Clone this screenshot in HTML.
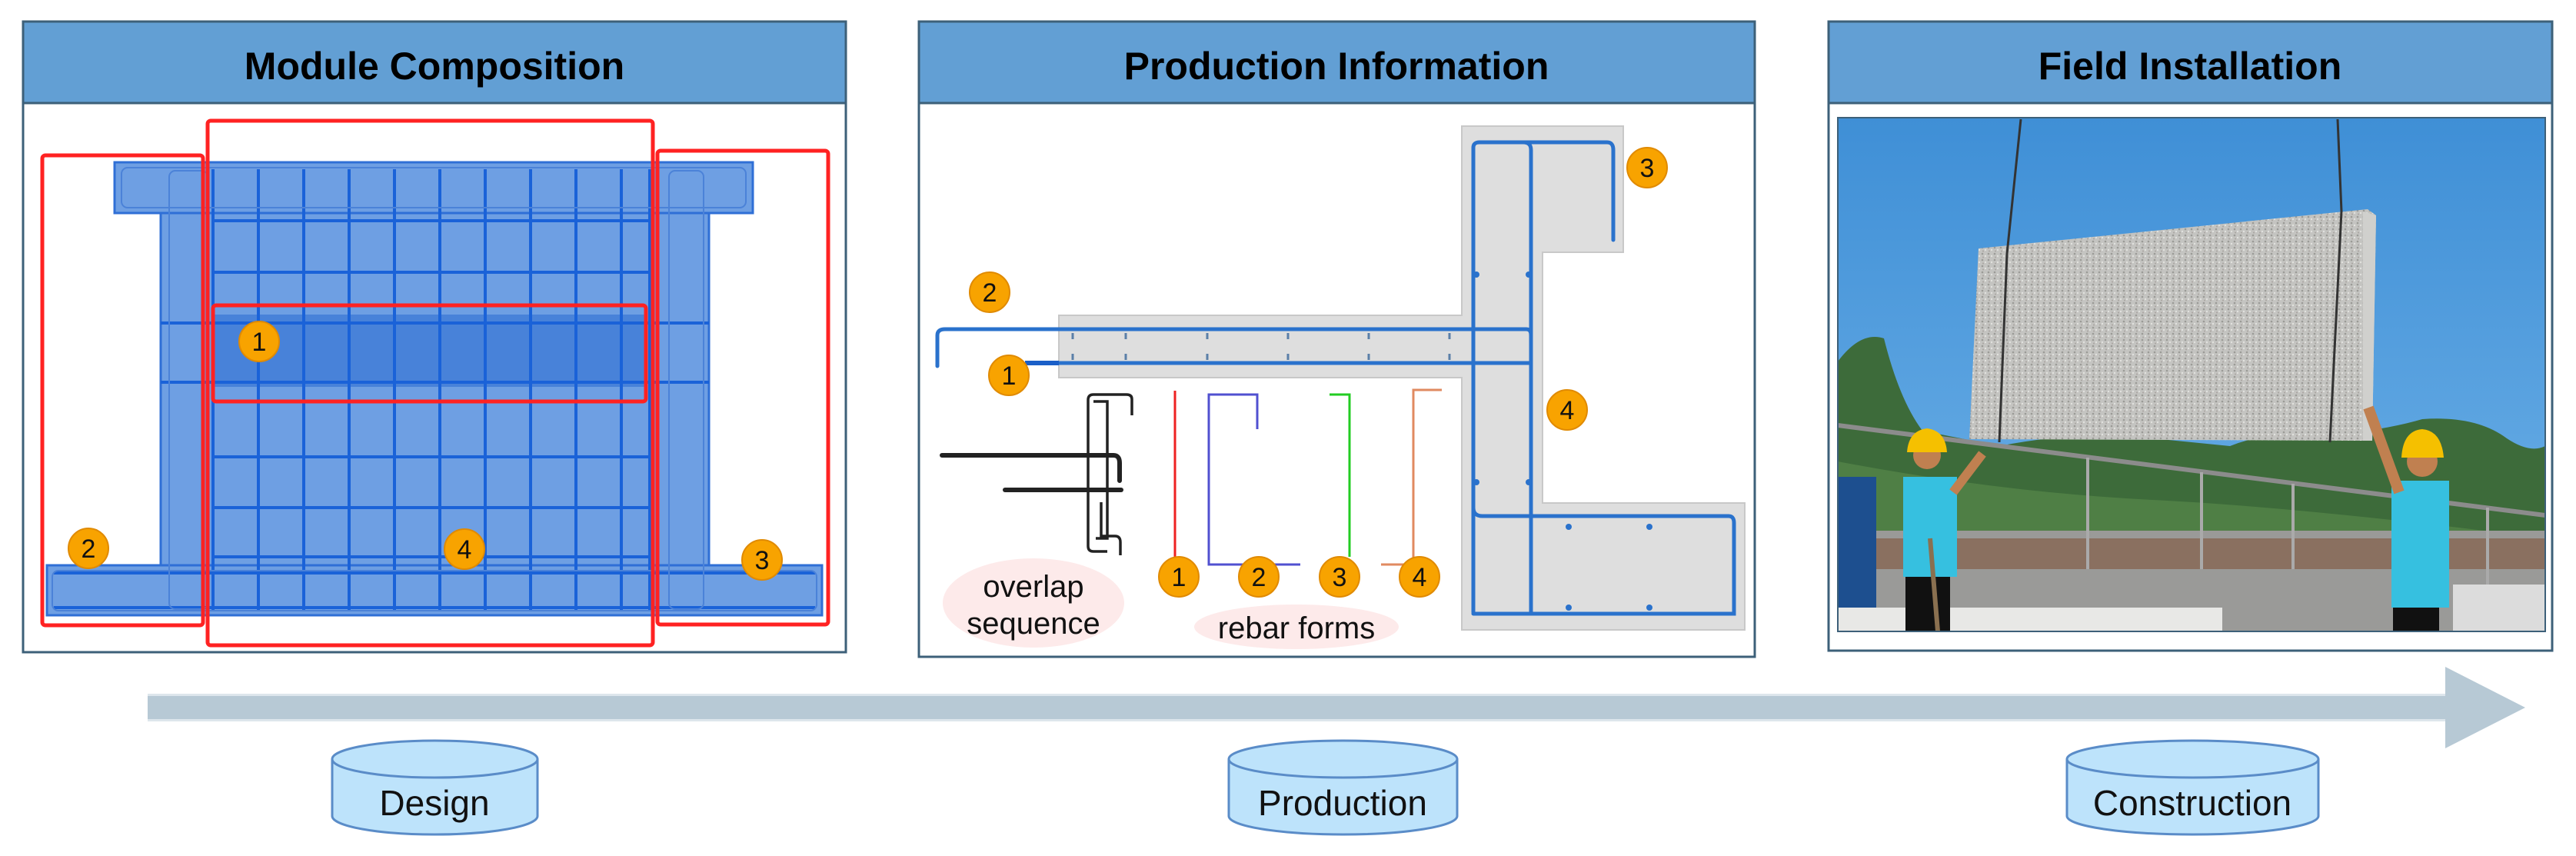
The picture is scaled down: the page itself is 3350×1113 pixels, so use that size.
<!DOCTYPE html>
<html><head><meta charset="utf-8"><style>
html,body{margin:0;padding:0;background:#fff}
svg{display:block}
text{font-family:"Liberation Sans",sans-serif}
</style></head><body>
<svg width="3350" height="1113" viewBox="0 0 3350 1113" xmlns="http://www.w3.org/2000/svg">
<defs>
<pattern id="grain" width="8" height="8" patternUnits="userSpaceOnUse">
<rect width="8" height="8" fill="#c4c4c1"/>
<circle cx="2" cy="2" r="1.3" fill="#9a9a96"/><circle cx="6" cy="5" r="1.2" fill="#e2e2de"/><circle cx="3" cy="6.5" r="1" fill="#a8a49f"/>
</pattern>
<linearGradient id="sky" x1="0" y1="0" x2="0" y2="1"><stop offset="0" stop-color="#3f8fd6"/><stop offset="1" stop-color="#6fb2e8"/></linearGradient>
</defs>

<!-- Panel 1 -->
<rect x="30" y="28" width="1070" height="820" fill="#fff" stroke="#3d6079" stroke-width="3"/>
<rect x="30" y="28" width="1070" height="106" fill="#629fd4" stroke="#3d6079" stroke-width="3"/>
<text x="565" y="103" font-size="50" font-weight="bold" text-anchor="middle">Module Composition</text>
<g fill="#6e9fe3" stroke="#2f6fd6" stroke-width="3">
<rect x="149" y="211" width="830" height="66"/>
<rect x="209" y="277" width="713" height="460"/>
<rect x="61" y="735" width="1008" height="65"/>
</g>
<rect x="277" y="409" width="563" height="94" fill="#3f7ad6" opacity="0.8"/>
<g stroke="#1a62d8" stroke-width="4">
<line x1="277" y1="220" x2="277" y2="795"/><line x1="336" y1="220" x2="336" y2="795"/><line x1="395" y1="220" x2="395" y2="795"/><line x1="454" y1="220" x2="454" y2="795"/><line x1="513" y1="220" x2="513" y2="795"/><line x1="572" y1="220" x2="572" y2="795"/><line x1="631" y1="220" x2="631" y2="795"/><line x1="690" y1="220" x2="690" y2="795"/><line x1="749" y1="220" x2="749" y2="795"/><line x1="808" y1="220" x2="808" y2="795"/><line x1="845" y1="220" x2="845" y2="795"/>
<line x1="277" y1="287" x2="845" y2="287"/><line x1="277" y1="354" x2="845" y2="354"/><line x1="209" y1="420" x2="922" y2="420"/><line x1="209" y1="497" x2="922" y2="497"/><line x1="277" y1="594" x2="845" y2="594"/><line x1="277" y1="660" x2="845" y2="660"/><line x1="277" y1="724" x2="845" y2="724"/><line x1="70" y1="745" x2="1060" y2="745"/><line x1="70" y1="790" x2="1060" y2="790"/>
</g>
<g stroke="#4b82d8" stroke-width="2" fill="none">
<rect x="220" y="222" width="50" height="570" rx="8"/><rect x="870" y="222" width="45" height="570" rx="8"/>
<rect x="158" y="218" width="812" height="52" rx="8"/><rect x="68" y="742" width="994" height="52" rx="8"/>
</g>
<g fill="none" stroke="#f22" stroke-width="5">
<rect x="55" y="202" width="209" height="611" rx="4"/>
<rect x="270" y="157" width="579" height="682" rx="4"/>
<rect x="855" y="196" width="222" height="616" rx="4"/>
<rect x="277" y="397" width="563" height="125" rx="4"/>
</g>
<g fill="#f8a300" stroke="#e08a00" stroke-width="2">
<circle cx="337" cy="444" r="26"/><circle cx="115" cy="713" r="26"/><circle cx="604" cy="714" r="26"/><circle cx="991" cy="728" r="26"/>
</g>
<g font-size="34" text-anchor="middle" fill="#111">
<text x="337" y="456">1</text><text x="115" y="725">2</text><text x="604" y="726">4</text><text x="991" y="740">3</text>
</g>

<!-- Panel 2 -->
<rect x="1195" y="28" width="1087" height="826" fill="#fff" stroke="#3d6079" stroke-width="3"/>
<rect x="1195" y="28" width="1087" height="106" fill="#629fd4" stroke="#3d6079" stroke-width="3"/>
<text x="1738" y="103" font-size="50" font-weight="bold" text-anchor="middle">Production Information</text>
<g fill="#dedede" stroke="#c8c8c8" stroke-width="2">
<path d="M1901 164 H2111 V328 H2006 V654 H2269 V819 H1901 V491 H1377 V410 H1901 Z"/>
</g>
<g fill="none" stroke="#2a72cc" stroke-width="5" stroke-linecap="round">
<path d="M1916 796 V192 Q1916 185 1924 185 H2090 Q2098 185 2098 195 V312"/>
<path d="M1991 796 V195 Q1991 185 1981 185"/>
<path d="M1219 476 V436 Q1219 428 1229 428 H1985 Q1991 428 1991 436"/>
<path d="M1377 472 H1991"/>
<path d="M1916 660 Q1916 671 1928 671 H2248 Q2255 671 2255 680 V798 H1916"/>
</g>
<path d="M1333 472 H1377" stroke="#1a5fc8" stroke-width="6"/>
<g stroke="#5a7fa8" stroke-width="3">
<line x1="1395" y1="433" x2="1395" y2="441"/><line x1="1464" y1="433" x2="1464" y2="441"/><line x1="1570" y1="433" x2="1570" y2="441"/><line x1="1675" y1="433" x2="1675" y2="441"/><line x1="1780" y1="433" x2="1780" y2="441"/><line x1="1885" y1="433" x2="1885" y2="441"/>
<line x1="1395" y1="460" x2="1395" y2="468"/><line x1="1464" y1="460" x2="1464" y2="468"/><line x1="1570" y1="460" x2="1570" y2="468"/><line x1="1675" y1="460" x2="1675" y2="468"/><line x1="1780" y1="460" x2="1780" y2="468"/><line x1="1885" y1="460" x2="1885" y2="468"/>
</g>
<g fill="#2a72cc"><circle cx="1920" cy="357" r="4"/><circle cx="1988" cy="357" r="4"/><circle cx="1920" cy="627" r="4"/><circle cx="1988" cy="627" r="4"/><circle cx="2040" cy="685" r="4"/><circle cx="2145" cy="685" r="4"/><circle cx="2040" cy="790" r="4"/><circle cx="2145" cy="790" r="4"/></g>
<g fill="none" stroke-width="3">
<path d="M1528 508 V724" stroke="#e22"/>
<path d="M1635 558 V513 H1572 V734 H1691" stroke="#5050d0"/>
<path d="M1729 513 H1755 V724" stroke="#2c2"/>
<path d="M1875 507 H1838 V734 H1796" stroke="#e08a60"/>
</g>
<g fill="none" stroke="#222" stroke-width="6" stroke-linecap="round">
<path d="M1225 592 H1448 Q1456 592 1456 602 V625"/>
<path d="M1307 637 H1458"/>
</g>
<g fill="none" stroke="#222" stroke-width="3.5">
<path d="M1472 540 V519 Q1472 513 1465 513 H1422 Q1415 513 1415 520 V710 Q1415 717 1422 717 H1440"/>
<path d="M1422 522 H1440 V700 H1425"/>
<path d="M1432 653 V697 H1450 Q1457 697 1457 705 V722"/>
</g>
<ellipse cx="1344" cy="784" rx="118" ry="58" fill="#fdeaea"/>
<ellipse cx="1686" cy="815" rx="133" ry="29" fill="#fdeaea"/>
<g font-size="40" text-anchor="middle" fill="#111">
<text x="1344" y="776">overlap</text><text x="1344" y="824">sequence</text><text x="1686" y="830">rebar forms</text>
</g>
<g fill="#f8a300" stroke="#e08a00" stroke-width="2">
<circle cx="2142" cy="218" r="26"/><circle cx="1287" cy="380" r="26"/><circle cx="1312" cy="488" r="26"/><circle cx="2038" cy="533" r="26"/>
<circle cx="1533" cy="750" r="26"/><circle cx="1637" cy="750" r="26"/><circle cx="1742" cy="750" r="26"/><circle cx="1846" cy="750" r="26"/>
</g>
<g font-size="34" text-anchor="middle" fill="#111">
<text x="2142" y="230">3</text><text x="1287" y="392">2</text><text x="1312" y="500">1</text><text x="2038" y="545">4</text>
<text x="1533" y="762">1</text><text x="1637" y="762">2</text><text x="1742" y="762">3</text><text x="1846" y="762">4</text>
</g>

<!-- Panel 3 -->
<rect x="2378" y="28" width="941" height="818" fill="#fff" stroke="#3d6079" stroke-width="3"/>
<rect x="2378" y="28" width="941" height="106" fill="#629fd4" stroke="#3d6079" stroke-width="3"/>
<text x="2848" y="103" font-size="50" font-weight="bold" text-anchor="middle">Field Installation</text>
<svg x="2390" y="153" width="920" height="668" viewBox="2390 153 920 668">
<rect x="2390" y="153" width="920" height="668" fill="url(#sky)"/>
<path d="M2390 470 Q2420 430 2450 440 Q2470 520 2500 560 L2600 580 Q2700 560 2800 570 L2900 580 Q2950 560 3000 570 Q3100 560 3150 545 Q3220 540 3260 570 Q3290 590 3310 580 V821 H2390 Z" fill="#3d6b3a"/>
<path d="M2390 600 Q2600 640 2800 650 Q3000 660 3310 700 V821 H2390 Z" fill="#4f7f45"/>
<rect x="2390" y="690" width="920" height="131" fill="#9a9a98"/>
<rect x="2390" y="620" width="50" height="170" fill="#1d4f8f"/>
<rect x="2440" y="700" width="870" height="40" fill="#8a7060"/>
<rect x="2390" y="790" width="500" height="31" fill="#e8e8e6"/>
<rect x="3190" y="760" width="120" height="61" fill="#dcdcdc"/>
<path d="M2390 553 L3310 670" stroke="#8c8c8c" stroke-width="6"/>
<g stroke="#aaa" stroke-width="4"><line x1="2715" y1="595" x2="2715" y2="740"/><line x1="2863" y1="614" x2="2863" y2="740"/><line x1="2982" y1="629" x2="2982" y2="740"/><line x1="3235" y1="660" x2="3235" y2="760"/></g>
<path d="M2573 323 L3079 272 L3090 280 L3085 573 L3073 573 L2561 571 Z" fill="url(#grain)"/>
<path d="M3073 275 L3090 280 L3085 573 L3073 573 Z" fill="#d0d0cd"/>
<g stroke="#333" stroke-width="3" fill="none">
<path d="M2628 155 L2610 330 L2600 575"/><path d="M3040 155 L3045 275 L3030 575"/>
</g>
<rect x="2475" y="620" width="70" height="130" fill="#36c0e0"/>
<rect x="2478" y="750" width="58" height="71" fill="#111"/>
<circle cx="2506" cy="592" r="18" fill="#c08050"/>
<path d="M2480 588 Q2482 560 2506 557 Q2530 560 2532 588 Z" fill="#f5c000"/>
<path d="M2540 640 L2578 590" stroke="#c08050" stroke-width="12"/>
<path d="M2510 700 L2520 821" stroke="#8a7050" stroke-width="6"/>
<rect x="3110" y="625" width="75" height="165" fill="#36c0e0"/>
<rect x="3112" y="790" width="60" height="31" fill="#111"/>
<circle cx="3150" cy="600" r="20" fill="#c08050"/>
<path d="M3123 595 Q3125 560 3150 558 Q3175 560 3178 595 Z" fill="#f5c000"/>
<path d="M3120 640 L3080 530" stroke="#c08050" stroke-width="14"/>
</svg>
<rect x="2390" y="153" width="920" height="668" fill="none" stroke="#3d6079" stroke-width="2"/>

<!-- Arrow -->
<rect x="192" y="902" width="2990" height="36" fill="#dde6ec"/>
<rect x="192" y="905" width="2990" height="30" fill="#b7c9d5"/>
<path d="M3180 867 L3284 920 L3180 973 Z" fill="#b7c9d5"/>

<!-- Cylinders -->
<g fill="#bde3fb" stroke="#5a8cc8" stroke-width="3">
<path d="M432 987 V1061 A133.5 24 0 0 0 699 1061 V987"/>
<ellipse cx="565.5" cy="987" rx="133.5" ry="24"/>
<path d="M1598 987 V1061 A148.5 24 0 0 0 1895 1061 V987"/>
<ellipse cx="1746.5" cy="987" rx="148.5" ry="24"/>
<path d="M2688 987 V1061 A163.5 24 0 0 0 3015 1061 V987"/>
<ellipse cx="2851.5" cy="987" rx="163.5" ry="24"/>
</g>
<g font-size="46" text-anchor="middle" fill="#111">
<text x="565" y="1060">Design</text><text x="1746" y="1060">Production</text><text x="2851" y="1060">Construction</text>
</g>
</svg>
</body></html>
